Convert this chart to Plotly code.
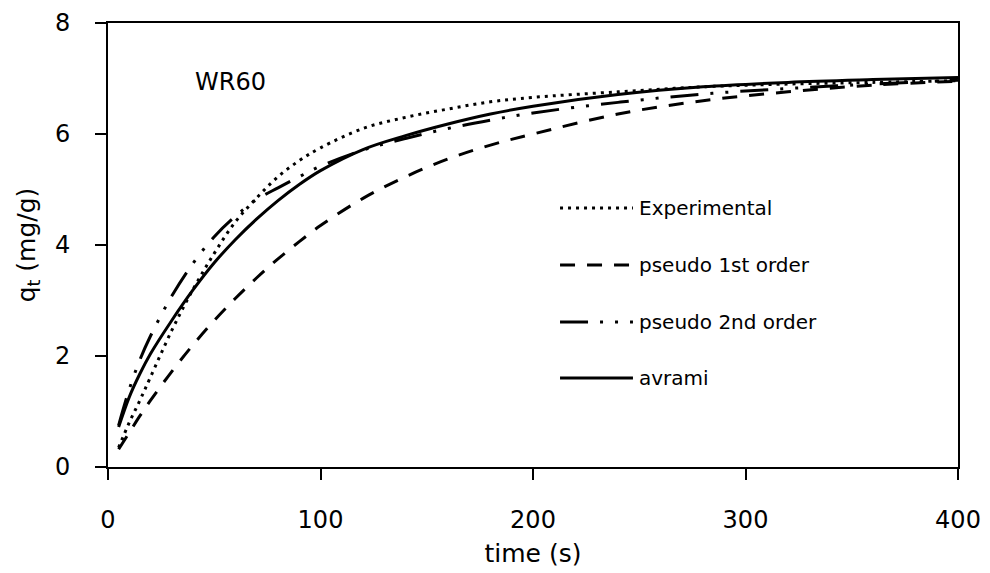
import plotly.graph_objects as go

# time points (s)
time_s = [5, 10, 15, 20, 30, 40, 50, 60, 70, 80, 90, 100, 120, 140, 160, 180, 200, 240, 280, 320, 360, 400]

experimental = [0.35, 0.80, 1.20, 1.62, 2.46, 3.20, 3.85, 4.42, 4.85, 5.23, 5.52, 5.75, 6.10, 6.30, 6.45, 6.58, 6.66, 6.76, 6.85, 6.90, 6.93, 6.96]
pseudo_1st = [0.32, 0.62, 0.92, 1.20, 1.72, 2.20, 2.64, 3.04, 3.41, 3.75, 4.06, 4.35, 4.84, 5.23, 5.55, 5.80, 6.00, 6.36, 6.60, 6.76, 6.88, 6.95]
pseudo_2nd = [0.75, 1.40, 1.93, 2.36, 3.08, 3.67, 4.15, 4.52, 4.82, 5.03, 5.23, 5.42, 5.71, 5.92, 6.10, 6.25, 6.38, 6.57, 6.72, 6.82, 6.90, 6.97]
avrami = [0.72, 1.26, 1.68, 2.04, 2.64, 3.19, 3.68, 4.10, 4.47, 4.80, 5.09, 5.34, 5.72, 5.97, 6.18, 6.36, 6.50, 6.71, 6.85, 6.93, 6.98, 7.02]

series_names = ["Experimental", "pseudo 1st order", "pseudo 2nd order", "avrami"]
series_values = [experimental, pseudo_1st, pseudo_2nd, avrami]
x_ticks = [0, 100, 200, 300, 400]
y_ticks = [0, 2, 4, 6, 8]

dashes = ["3px,5px", "15px,12px", "28px,12px,3px,12px,3px,12px", "solid"]
FONT = "DejaVu Sans"

fig = go.Figure()
for name, vals, dash in zip(series_names, series_values, dashes):
    fig.add_trace(go.Scatter(
        x=time_s, y=vals, name=name, mode="lines",
        line=dict(color="black", width=3, dash=dash, shape="spline", smoothing=1.0),
        showlegend=False,
    ))

# manual legend (long line samples as in the reference)
legend_rows = [0.5833, 0.455, 0.3266, 0.2005]
for name, dash, yr in zip(series_names, dashes, legend_rows):
    fig.add_shape(type="line", xref="paper", yref="paper",
                  x0=0.5318, x1=0.6176, y0=yr, y1=yr,
                  line=dict(color="black", width=3, dash=dash))
    fig.add_annotation(x=0.6224, y=yr, xref="paper", yref="paper",
                       text=name, showarrow=False, xanchor="left", yanchor="middle",
                       font=dict(family=FONT, size=20, color="black"))

fig.add_annotation(x=0.1447, y=0.867, xref="paper", yref="paper", text="WR60",
                   showarrow=False, xanchor="center", yanchor="middle",
                   font=dict(family=FONT, size=24, color="black"))

axis_common = dict(
    showline=True, linecolor="black", linewidth=2, mirror=True,
    ticks="outside", ticklen=11, tickwidth=2, tickcolor="black",
    showgrid=False, zeroline=False, automargin=False,
    tickfont=dict(family=FONT, size=24, color="black"),
)

# page body has an 8px margin, so the figure is sized to fit the 990x573 window
fig.update_layout(
    width=982, height=565,
    margin=dict(l=100, r=32, t=15, b=106),
    paper_bgcolor="white", plot_bgcolor="white",
    xaxis=dict(range=[0, 400], tickvals=x_ticks, ticktext=[str(v) for v in x_ticks],
               title=dict(text="time (s)", font=dict(family=FONT, size=25, color="black"), standoff=12),
               ticklabelstandoff=19, **axis_common),
    yaxis=dict(range=[0, 8], tickvals=y_ticks, ticktext=[str(v) for v in y_ticks],
               title=dict(text="q<sub>t</sub> (mg/g)", font=dict(family=FONT, size=25, color="black"), standoff=12),
               ticklabelstandoff=20, **axis_common),
)

fig.write_html("out.html")
